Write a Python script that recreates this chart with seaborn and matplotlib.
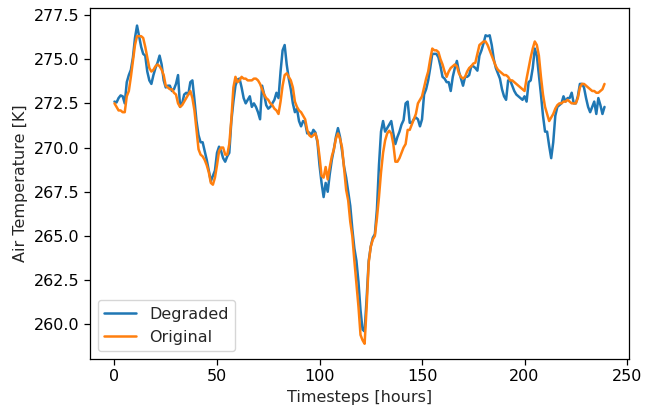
import numpy as np
import pandas as pd
import matplotlib
matplotlib.use("Agg")
import matplotlib.pyplot as plt
import seaborn as sns

# Hourly air temperature [K], 240 hours
original = [
    272.5, 272.3, 272.1, 272.1, 272.0, 272.0, 272.9, 273.2, 274.0, 274.9,
    275.8, 276.3, 276.3, 276.3, 276.2, 275.7, 275.1, 274.5, 274.3, 274.4,
    274.6, 274.7, 274.6, 274.4, 274.1, 273.5, 273.4, 273.3, 273.3, 273.1,
    273.0, 272.5, 272.3, 272.4, 272.6, 272.8, 273.0, 273.2, 272.8, 272.1,
    271.0, 269.9, 269.6, 269.5, 269.3, 269.0, 268.6, 268.0, 267.9, 268.3,
    269.0, 269.8, 270.0, 270.0, 269.6, 269.6, 270.2, 271.6, 273.4, 274.0,
    273.7, 273.8, 274.0, 273.9, 273.9, 273.8, 273.8, 273.8, 273.9, 273.9,
    273.8, 273.6, 273.3, 273.0, 272.8, 272.7, 272.5, 272.4, 272.2, 272.1,
    271.9, 272.6, 273.5, 274.1, 274.2, 274.0, 273.8, 273.4, 272.6, 272.3,
    272.1, 272.0, 271.8, 271.6, 271.0, 270.7, 270.6, 270.7, 270.8, 270.4,
    269.5, 268.4, 268.3, 268.9, 268.2, 268.9, 269.5, 269.9, 270.5, 270.8,
    270.5, 270.0, 268.8, 267.6, 267.0, 265.8, 265.0, 263.6, 262.3, 261.0,
    259.4, 259.1, 258.9, 261.0, 263.5, 264.4, 264.8, 265.0, 266.0, 267.2,
    268.6, 269.7, 270.4, 270.8, 270.95, 270.8, 270.2, 269.2, 269.2, 269.4,
    269.7, 270.0, 270.2, 271.0, 271.0, 271.3, 271.6, 271.9, 272.5, 272.7,
    272.9, 273.4, 273.9, 274.3, 275.0, 275.6, 275.5, 275.5, 275.4, 275.0,
    274.7, 274.3, 274.0, 274.3, 274.5, 274.6, 274.7, 274.6, 274.2, 274.0,
    273.9, 274.0, 274.3, 274.5, 274.6, 274.75, 274.8, 275.3, 275.8, 275.9,
    276.0, 276.0, 275.8, 275.5, 275.2, 274.9, 274.6, 274.4, 274.3, 274.2,
    274.1, 274.1, 274.0, 273.8, 273.8, 273.7, 273.6, 273.5, 273.4, 273.3,
    273.2, 273.9, 274.5, 275.1, 275.6, 276.0, 275.8, 275.2, 274.0, 273.0,
    272.3, 271.9, 271.5, 271.7, 271.9, 272.2, 272.4, 272.5, 272.5, 272.6,
    272.6, 272.7, 272.6, 272.5, 272.5, 272.5, 272.8, 273.4, 273.6, 273.6,
    273.5, 273.4, 273.3, 273.2, 273.2, 273.1, 273.1, 273.2, 273.3, 273.6,
]

degraded = [
    272.6, 272.55, 272.8, 272.95, 272.9, 272.5, 273.7, 274.1, 274.4, 275.1,
    276.2, 276.9, 276.3, 275.7, 275.3, 275.2, 274.3, 273.8, 273.6, 274.1,
    274.5, 274.8, 275.2, 274.7, 273.8, 273.4, 273.5, 273.5, 273.2, 273.3,
    273.6, 274.1, 272.3, 272.5, 273.0, 273.1, 273.0, 273.7, 273.8, 272.7,
    271.5, 270.7, 270.3, 270.3, 269.8, 269.3, 268.7, 268.1, 268.4, 268.7,
    269.7, 270.05, 269.8, 269.4, 269.2, 269.5, 269.7, 271.5, 272.6, 273.5,
    273.85, 273.9, 273.4, 272.8, 272.5, 272.7, 272.9, 272.3, 272.5, 272.3,
    272.0, 271.6, 273.5, 273.0, 272.4, 272.2, 272.3, 272.5, 272.7, 273.1,
    272.8, 274.3, 275.5, 275.8, 274.7, 273.9, 273.3, 272.5, 272.0, 272.2,
    271.5, 271.2, 271.5, 271.4, 270.8, 270.85, 270.7, 271.0, 270.85, 270.3,
    269.0, 268.0, 267.2, 268.0, 267.5, 268.5, 269.3, 269.9, 270.6, 271.1,
    270.6, 269.8, 268.9, 268.3, 267.5, 266.7, 265.4, 264.3, 263.6, 262.4,
    260.8, 259.7, 259.6, 261.5, 263.6, 264.4, 264.9, 265.1, 266.5, 269.0,
    270.9, 271.5, 270.9, 271.1, 271.3, 271.5, 270.8, 270.2, 270.6, 270.9,
    271.3, 271.55, 272.5, 272.6, 271.4, 271.4, 271.6, 271.7, 271.6, 271.2,
    271.6, 273.0, 273.3, 273.8, 274.5, 275.3, 275.3, 275.3, 275.1, 274.6,
    274.0, 273.9, 273.7, 273.7, 273.2, 274.0, 274.5, 274.9, 274.3, 273.9,
    273.5, 274.0, 274.0, 274.1, 274.6, 274.6, 274.5, 274.35, 275.2, 275.5,
    275.9, 276.35, 276.3, 276.35, 275.8, 275.0, 274.5, 274.2, 273.9, 273.3,
    272.9, 272.7, 273.8, 273.8, 273.5, 273.2, 273.0, 272.9, 272.8, 272.7,
    272.9, 272.6, 273.7, 273.8, 274.5, 275.6, 275.2, 274.1, 273.0, 271.8,
    270.9, 270.9, 270.1, 269.4, 270.3, 271.8, 272.3, 272.4, 272.5, 272.9,
    272.6, 272.8, 272.8, 273.1, 272.5, 272.5, 272.9, 273.6, 273.6, 273.4,
    272.8, 272.3, 272.0, 272.3, 272.6, 271.9, 272.8, 272.4, 271.9, 272.3,
]

series_names = ["Degraded", "Original"]
hours = np.arange(len(original))

df = pd.concat([
    pd.DataFrame({"hour": hours, "temp": degraded, "series": series_names[0]}),
    pd.DataFrame({"hour": hours, "temp": original, "series": series_names[1]}),
])

sns.set_style("ticks")
plt.rcParams["font.family"] = ["DejaVu Sans"]

fig, ax = plt.subplots(figsize=(6.45, 4.13), dpi=100)
fig.subplots_adjust(left=0.1395, right=0.9752, top=0.980, bottom=0.1308)

sns.lineplot(data=df, x="hour", y="temp", hue="series",
             palette=["#1f77b4", "#ff7f0e"], linewidth=1.8, ax=ax)

ax.set_xlim(-11.95, 250.95)
ax.set_ylim(258.04, 277.88)
ax.set_xticks([0, 50, 100, 150, 200, 250])
ax.set_yticks([260.0, 262.5, 265.0, 267.5, 270.0, 272.5, 275.0, 277.5])
ax.set_yticklabels(["260.0", "262.5", "265.0", "267.5", "270.0", "272.5", "275.0", "277.5"])
ax.set_xlabel("Timesteps [hours]", fontsize=11.5)
ax.set_ylabel("Air Temperature [K]", fontsize=11.5)
ax.tick_params(labelsize=11.5, length=4, width=0.9, color="black", labelcolor="black")
for s in ax.spines.values():
    s.set_color("black")
    s.set_linewidth(0.9)

ax.legend(loc="lower left", fontsize=11.5, title=None)

fig.savefig("out.png", dpi=100)
